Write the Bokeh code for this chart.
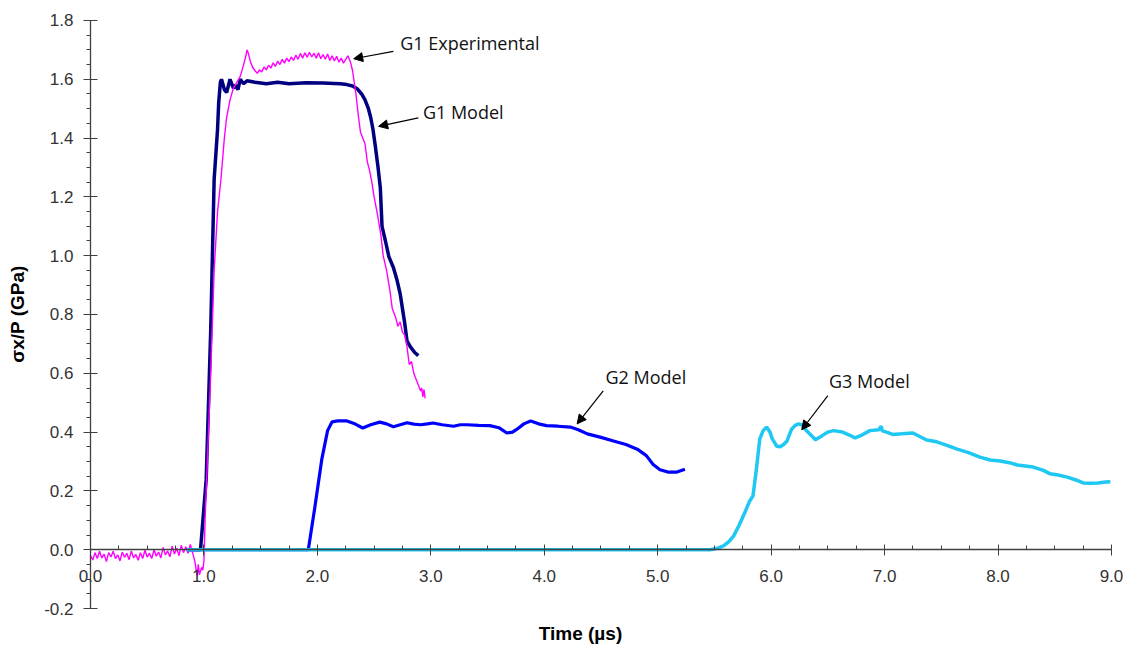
from bokeh.plotting import figure
from bokeh.models import (Range1d, LinearAxis, FixedTicker, NumeralTickFormatter,
                          Arrow, NormalHead, Label)
from bokeh.embed import file_html
from bokeh.resources import INLINE

# ---------------- data ----------------
g1_model_t = [0.85, 0.97, 1.02, 1.06, 1.09, 1.12, 1.13, 1.145, 1.155, 1.18, 1.20, 1.23, 1.26, 1.28,
              1.30, 1.32, 1.35, 1.38, 1.45, 1.55, 1.65, 1.75, 1.90, 2.05, 2.20, 2.26, 2.31, 2.35,
              2.39, 2.42, 2.45, 2.47, 2.49, 2.51, 2.535, 2.555, 2.57, 2.60, 2.63, 2.67, 2.70,
              2.73, 2.75, 2.77, 2.79, 2.82, 2.86, 2.89]
g1_model_s = [0.0, 0.0, 0.24, 0.75, 1.26, 1.43, 1.52, 1.59, 1.60, 1.565, 1.555, 1.60, 1.57, 1.58,
              1.565, 1.60, 1.585, 1.595, 1.59, 1.585, 1.59, 1.585, 1.588, 1.587, 1.585, 1.582,
              1.577, 1.568, 1.55, 1.53, 1.50, 1.47, 1.43, 1.375, 1.30, 1.23, 1.10, 1.05, 0.997,
              0.96, 0.92, 0.87, 0.82, 0.77, 0.71, 0.69, 0.67, 0.66]

# G1 experimental trace, (time, stress) pairs
g1_exp_points = [
    (0.00, -0.020), (0.02, -0.035), (0.04, -0.010), (0.06, -0.030), (0.08, -0.005),
    (0.10, -0.028), (0.12, -0.015), (0.14, -0.040), (0.16, -0.010), (0.18, -0.025),
    (0.20, -0.005), (0.22, -0.030), (0.24, -0.018), (0.26, -0.038), (0.28, -0.008),
    (0.30, -0.026), (0.32, -0.012), (0.34, -0.034), (0.36, -0.004), (0.38, -0.028),
    (0.40, -0.016), (0.42, -0.036), (0.44, -0.010), (0.46, -0.030), (0.48, -0.002),
    (0.50, -0.025), (0.52, -0.012), (0.54, -0.030), (0.56, 0.000), (0.58, -0.022),
    (0.60, -0.008), (0.62, -0.028), (0.64, 0.008), (0.66, -0.018), (0.68, -0.004),
    (0.70, -0.024), (0.72, 0.012), (0.74, -0.015), (0.76, 0.005), (0.78, -0.020),
    (0.80, 0.015), (0.82, -0.010), (0.84, 0.010), (0.86, -0.012), (0.88, 0.018),
    (0.90, -0.010), (0.92, -0.040), (0.94, -0.090), (0.95, -0.050), (0.96, -0.085),
    (0.98, -0.060), (0.99, -0.070), (1.00, -0.040), (1.01, 0.100), (1.03, 0.300),
    (1.06, 0.600), (1.09, 0.950), (1.12, 1.150), (1.15, 1.260), (1.18, 1.400),
    (1.20, 1.470), (1.23, 1.530), (1.26, 1.570), (1.29, 1.590), (1.32, 1.610),
    (1.35, 1.650), (1.37, 1.680), (1.38, 1.700), (1.39, 1.690), (1.41, 1.660),
    (1.43, 1.640), (1.45, 1.630), (1.47, 1.620), (1.49, 1.632), (1.51, 1.625),
    (1.53, 1.642), (1.55, 1.632), (1.57, 1.648), (1.59, 1.638), (1.61, 1.656),
    (1.63, 1.644), (1.65, 1.662), (1.67, 1.650), (1.69, 1.668), (1.71, 1.655),
    (1.73, 1.672), (1.75, 1.660), (1.77, 1.676), (1.79, 1.664), (1.81, 1.682),
    (1.83, 1.668), (1.85, 1.688), (1.87, 1.672), (1.89, 1.690), (1.91, 1.675),
    (1.93, 1.692), (1.95, 1.676), (1.97, 1.688), (1.99, 1.672), (2.01, 1.690),
    (2.03, 1.670), (2.05, 1.684), (2.07, 1.668), (2.09, 1.686), (2.11, 1.664),
    (2.13, 1.680), (2.15, 1.662), (2.17, 1.678), (2.19, 1.658), (2.21, 1.672),
    (2.23, 1.655), (2.25, 1.668), (2.27, 1.680), (2.29, 1.660), (2.31, 1.630),
    (2.34, 1.550), (2.36, 1.480), (2.38, 1.420), (2.40, 1.400), (2.42, 1.380),
    (2.44, 1.320), (2.46, 1.290), (2.48, 1.250), (2.50, 1.200), (2.53, 1.140),
    (2.56, 1.070), (2.58, 1.000), (2.61, 0.950), (2.64, 0.880), (2.66, 0.820),
    (2.69, 0.790), (2.71, 0.760), (2.73, 0.775), (2.75, 0.740), (2.77, 0.730),
    (2.79, 0.690), (2.81, 0.630), (2.83, 0.640), (2.85, 0.600), (2.87, 0.580),
    (2.89, 0.560), (2.91, 0.540), (2.92, 0.550), (2.93, 0.520), (2.94, 0.545),
    (2.95, 0.515),
]
exp_t = [pt[0] for pt in g1_exp_points]
exp_s = [pt[1] for pt in g1_exp_points]

g2_model_t = [0.85, 1.92, 1.98, 2.04, 2.09, 2.13, 2.18, 2.26, 2.33, 2.40, 2.47, 2.55, 2.61, 2.67,
              2.73, 2.79, 2.85, 2.91, 2.97, 3.02, 3.10, 3.20, 3.26, 3.32, 3.42, 3.52, 3.60,
              3.67, 3.72, 3.76, 3.82, 3.88, 3.95, 4.02, 4.12, 4.23, 4.30, 4.38, 4.50, 4.61,
              4.72, 4.82, 4.90, 4.96, 5.02, 5.09, 5.17, 5.24]
g2_model_s = [0.0, 0.0, 0.15, 0.31, 0.405, 0.435, 0.438, 0.438, 0.428, 0.414, 0.425, 0.434,
              0.428, 0.418, 0.425, 0.432, 0.427, 0.425, 0.428, 0.431, 0.425, 0.420, 0.425,
              0.425, 0.423, 0.422, 0.415, 0.397, 0.400, 0.410, 0.428, 0.438, 0.428, 0.422,
              0.420, 0.417, 0.408, 0.394, 0.382, 0.370, 0.358, 0.342, 0.320, 0.290, 0.272,
              0.264, 0.264, 0.274]

g3_model_t = [0.85, 5.46, 5.52, 5.58, 5.63, 5.67, 5.72, 5.77, 5.81, 5.84, 5.87, 5.90, 5.93,
              5.96, 5.99, 6.01, 6.05, 6.08, 6.11, 6.14, 6.18, 6.21, 6.24, 6.27, 6.30, 6.35,
              6.39, 6.45, 6.50, 6.55, 6.63, 6.69, 6.74, 6.80, 6.87, 6.95, 6.97, 6.98, 7.03,
              7.07, 7.15, 7.25, 7.31, 7.37, 7.46, 7.55, 7.64, 7.74, 7.84, 7.93, 8.02, 8.10,
              8.17, 8.31, 8.40, 8.46, 8.53, 8.61, 8.68, 8.75, 8.82, 8.88, 8.95, 8.99]
g3_model_s = [0.0, 0.0, 0.004, 0.013, 0.028, 0.047, 0.085, 0.128, 0.165, 0.183, 0.274, 0.377,
              0.405, 0.417, 0.400, 0.377, 0.352, 0.350, 0.358, 0.370, 0.410, 0.422, 0.428,
              0.425, 0.410, 0.390, 0.374, 0.388, 0.400, 0.405, 0.400, 0.390, 0.380, 0.390,
              0.405, 0.408, 0.420, 0.404, 0.398, 0.392, 0.394, 0.397, 0.385, 0.373, 0.367,
              0.355, 0.342, 0.330, 0.315, 0.305, 0.302, 0.296, 0.288, 0.281, 0.270, 0.258,
              0.254, 0.247, 0.238, 0.227, 0.226, 0.227, 0.230, 0.231]

x_major = [0, 1, 2, 3, 4, 5, 6, 7, 8, 9]
x_minor = [i * 0.25 for i in range(37)]
y_major = [-0.2, 0.0, 0.2, 0.4, 0.6, 0.8, 1.0, 1.2, 1.4, 1.6, 1.8]
y_minor = [round(-0.2 + i * 0.05, 2) for i in range(41)]

ann_text = ["G1 Experimental", "G1 Model", "G2 Model", "G3 Model"]
ann_text_x = [2.73, 2.93, 4.54, 6.51]
ann_text_y = [1.723, 1.49, 0.588, 0.575]
arrow_tail_x = [2.67, 2.89, 4.52, 6.50]
arrow_tail_y = [1.695, 1.469, 0.54, 0.524]
arrow_head_x = [2.32, 2.54, 4.29, 6.27]
arrow_head_y = [1.67, 1.44, 0.428, 0.408]

# ---------------- figure ----------------
# the frame is a little larger than the axes so the tick labels sit inside it
p = figure(width=1126, height=646, output_backend="svg", toolbar_location=None,
           x_range=Range1d(-0.476, 9.115), y_range=Range1d(-0.2306, 1.834),
           x_axis_location=None, y_axis_location=None,
           min_border_left=36, min_border_right=2, min_border_top=10, min_border_bottom=24)
p.outline_line_color = None
p.xgrid.visible = False
p.ygrid.visible = False
p.background_fill_color = "white"

axis_color = "#404040"
label_color = "#333333"
tick_font_size = "17px"

# y axis at x = 0
yaxis = LinearAxis(ticker=FixedTicker(ticks=y_major, minor_ticks=y_minor),
                   formatter=NumeralTickFormatter(format="0.0"))
yaxis.fixed_location = 0
yaxis.bounds = (-0.2, 1.8)
yaxis.axis_line_color = axis_color
yaxis.axis_line_width = 1.3
yaxis.major_tick_line_color = axis_color
yaxis.minor_tick_line_color = axis_color
yaxis.major_tick_in = 7
yaxis.major_tick_out = 7
yaxis.minor_tick_in = 0
yaxis.minor_tick_out = 4
yaxis.major_label_standoff = 10
yaxis.major_label_text_font = "Liberation Sans"
yaxis.major_label_text_font_size = tick_font_size
yaxis.major_label_text_color = label_color
p.add_layout(yaxis, "left")

# y axis title
ytitle = LinearAxis(ticker=FixedTicker(ticks=[]))
ytitle.bounds = (-0.2, 1.68)
ytitle.axis_line_color = None
ytitle.major_tick_line_color = None
ytitle.minor_tick_line_color = None
ytitle.major_label_text_font_size = "0px"
ytitle.axis_label = "σx/P (GPa)"
ytitle.axis_label_text_font = "Liberation Sans"
ytitle.axis_label_text_font_size = "19px"
ytitle.axis_label_text_font_style = "bold"
ytitle.axis_label_text_color = "#000000"
ytitle.axis_label_standoff = 9
p.add_layout(ytitle, "left")

# x axis at y = 0
xaxis = LinearAxis(ticker=FixedTicker(ticks=x_major, minor_ticks=x_minor),
                   formatter=NumeralTickFormatter(format="0.0"))
xaxis.fixed_location = 0
xaxis.bounds = (0, 9)
xaxis.axis_line_color = axis_color
xaxis.axis_line_width = 1.3
xaxis.major_tick_line_color = axis_color
xaxis.minor_tick_line_color = axis_color
xaxis.major_tick_in = 5
xaxis.major_tick_out = 6
xaxis.minor_tick_in = 4
xaxis.minor_tick_out = 0
xaxis.major_label_standoff = 14
xaxis.major_label_text_font = "Liberation Sans"
xaxis.major_label_text_font_size = tick_font_size
xaxis.major_label_text_color = label_color
p.add_layout(xaxis, "below")

# x axis title at the bottom
xtitle = LinearAxis(ticker=FixedTicker(ticks=[]))
xtitle.axis_line_color = None
xtitle.major_tick_line_color = None
xtitle.minor_tick_line_color = None
xtitle.major_label_text_font_size = "0px"
xtitle.axis_label = "Time (µs)"
xtitle.axis_label_text_font = "Liberation Sans"
xtitle.axis_label_text_font_size = "19px"
xtitle.axis_label_text_font_style = "bold"
xtitle.axis_label_text_color = "#000000"
xtitle.axis_label_standoff = 5
p.add_layout(xtitle, "below")

# ---------------- series ----------------
p.line(g1_model_t, g1_model_s, line_color="#000080", line_width=3.5)
p.line(exp_t, exp_s, line_color="#FF00FF", line_width=1.4)
p.line(g2_model_t, g2_model_s, line_color="#0000FF", line_width=3.2)
p.line(g3_model_t, g3_model_s, line_color="#1EC8F2", line_width=3.5)

# ---------------- annotations ----------------
for i in range(len(ann_text)):
    p.add_layout(Arrow(end=NormalHead(size=9, fill_color="black", line_color="black", line_width=1),
                       x_start=arrow_tail_x[i], y_start=arrow_tail_y[i],
                       x_end=arrow_head_x[i], y_end=arrow_head_y[i],
                       line_color="black", line_width=1.2))
    p.add_layout(Label(x=ann_text_x[i], y=ann_text_y[i], text=ann_text[i],
                       text_font="Open Sans", text_font_size="18px",
                       text_color="#111111", text_baseline="middle", text_align="left"))

open("out.html", "w").write(file_html(p, INLINE))
